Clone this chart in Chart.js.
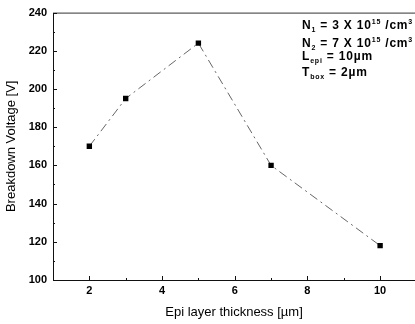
<!DOCTYPE html>
<html>
<head>
<meta charset="utf-8">
<script src="https://cdn.jsdelivr.net/npm/chart.js@4"></script>
<style>
  html, body { margin: 0; padding: 0; background: #fff; overflow: hidden; }
  #wrap { width: 415px; height: 324px; overflow: hidden; }
</style>
</head>
<body>
<div id="wrap"><canvas id="chart" width="419" height="324"></canvas></div>
<script>
// Epi layer thickness [um] vs breakdown voltage [V]
const thickness = [2, 3, 5, 7, 10];
const breakdown = [170, 195, 224, 160, 118];

const xTickVals = [2, 4, 6, 8, 10];
const xMinorVals = [1, 3, 5, 7, 9];
const yTickVals = [100, 120, 140, 160, 180, 200, 220, 240];
const yMinorVals = [110, 130, 150, 170, 190, 210, 230];

// annotation lines: [text, kind] where kind is n=normal, sub, sup
const noteLines = [
  [['N', 'n'], ['1', 'sub'], [' = 3 X 10', 'n'], ['15', 'sup'], [' /cm', 'n'], ['3', 'sup']],
  [['N', 'n'], ['2', 'sub'], [' = 7 X 10', 'n'], ['15', 'sup'], [' /cm', 'n'], ['3', 'sup']],
  [['L', 'n'], ['epi', 'sub'], [' = 10\u00b5m', 'n']],
  [['T', 'n'], ['box', 'sub'], [' = 2\u00b5m', 'n']]
];

const FONT = '"Liberation Sans", Arial, sans-serif';

// frame + inward tick marks
const framePlugin = {
  id: 'frame',
  afterDraw(chart) {
    const { ctx, chartArea: a, scales: { x, y } } = chart;
    ctx.save();
    ctx.strokeStyle = '#111';
    ctx.lineWidth = 1;
    ctx.beginPath();
    ctx.moveTo(a.left + 0.5, a.top + 0.5);
    ctx.lineTo(a.left + 0.5, a.bottom + 0.5);
    ctx.lineTo(a.right, a.bottom + 0.5);
    ctx.stroke();
    ctx.strokeStyle = '#333';
    ctx.beginPath();
    ctx.moveTo(a.left, a.top + 0.5);
    ctx.lineTo(a.right, a.top + 0.5);
    ctx.stroke();

    ctx.strokeStyle = '#111';
    ctx.beginPath();
    xTickVals.forEach(v => {
      const px = Math.round(x.getPixelForValue(v)) + 0.5;
      ctx.moveTo(px, a.bottom); ctx.lineTo(px, a.bottom - 4);
    });
    xMinorVals.forEach(v => {
      const px = Math.round(x.getPixelForValue(v)) + 0.5;
      ctx.moveTo(px, a.bottom); ctx.lineTo(px, a.bottom - 2);
    });
    yTickVals.forEach(v => {
      const py = Math.round(y.getPixelForValue(v)) + 0.5;
      ctx.moveTo(a.left, py); ctx.lineTo(a.left + 4, py);
    });
    yMinorVals.forEach(v => {
      const py = Math.round(y.getPixelForValue(v)) + 0.5;
      ctx.moveTo(a.left, py); ctx.lineTo(a.left + 2, py);
    });
    ctx.stroke();
    ctx.restore();
  }
};

// parameter box in the upper right
const notePlugin = {
  id: 'note',
  afterDraw(chart) {
    const { ctx } = chart;
    const baselines = [29, 47, 60, 76];
    ctx.save();
    ctx.fillStyle = '#000';
    ctx.textBaseline = 'alphabetic';
    ctx.letterSpacing = '0.8px';
    noteLines.forEach((parts, i) => {
      let cx = 302;
      const by = baselines[i];
      parts.forEach(([txt, kind]) => {
        if (kind === 'n') {
          ctx.font = 'bold 12px ' + FONT;
          ctx.fillText(txt, cx, by);
        } else if (kind === 'sub') {
          ctx.font = 'bold 7px ' + FONT;
          ctx.fillText(txt, cx, by + 3);
        } else {
          ctx.font = 'bold 7px ' + FONT;
          ctx.fillText(txt, cx, by - 5);
        }
        cx += ctx.measureText(txt).width;
      });
    });
    ctx.restore();
  }
};

new Chart(document.getElementById('chart'), {
  type: 'scatter',
  data: {
    datasets: [{
      data: thickness.map((t, i) => ({ x: t, y: breakdown[i] })),
      showLine: true,
      borderColor: '#666',
      borderWidth: 1,
      borderDash: [9, 4, 2, 4],
      pointStyle: 'rect',
      pointRadius: 3.8,
      pointBackgroundColor: '#000',
      pointBorderColor: '#000',
      pointBorderWidth: 0
    }]
  },
  options: {
    responsive: false,
    animation: false,
    layout: { padding: { top: 12, right: 0, left: 0, bottom: 0 } },
    plugins: { legend: { display: false }, tooltip: { enabled: false } },
    scales: {
      x: {
        type: 'linear',
        min: 1,
        max: 10.96,
        grid: { display: false, drawTicks: false },
        border: { display: false },
        afterBuildTicks: s => { s.ticks = xTickVals.map(v => ({ value: v })); },
        afterFit: s => { s.height = 44; },
        ticks: { padding: 4, color: '#000', font: { family: FONT, size: 11, weight: 'bold' } },
        title: { display: true, text: 'Epi layer thickness [\u00b5m]', color: '#000', padding: 4, font: { family: FONT, size: 13 } }
      },
      y: {
        min: 100,
        max: 240,
        grid: { display: false, drawTicks: false },
        border: { display: false },
        afterBuildTicks: s => { s.ticks = yTickVals.map(v => ({ value: v })); },
        afterFit: s => { s.width = 53; },
        ticks: { padding: 6, color: '#000', font: { family: FONT, size: 11, weight: 'bold' } },
        title: { display: true, text: 'Breakdown Voltage [V]', color: '#000', padding: 4, font: { family: FONT, size: 13 } }
      }
    }
  },
  plugins: [framePlugin, notePlugin]
});
</script>
</body>
</html>
